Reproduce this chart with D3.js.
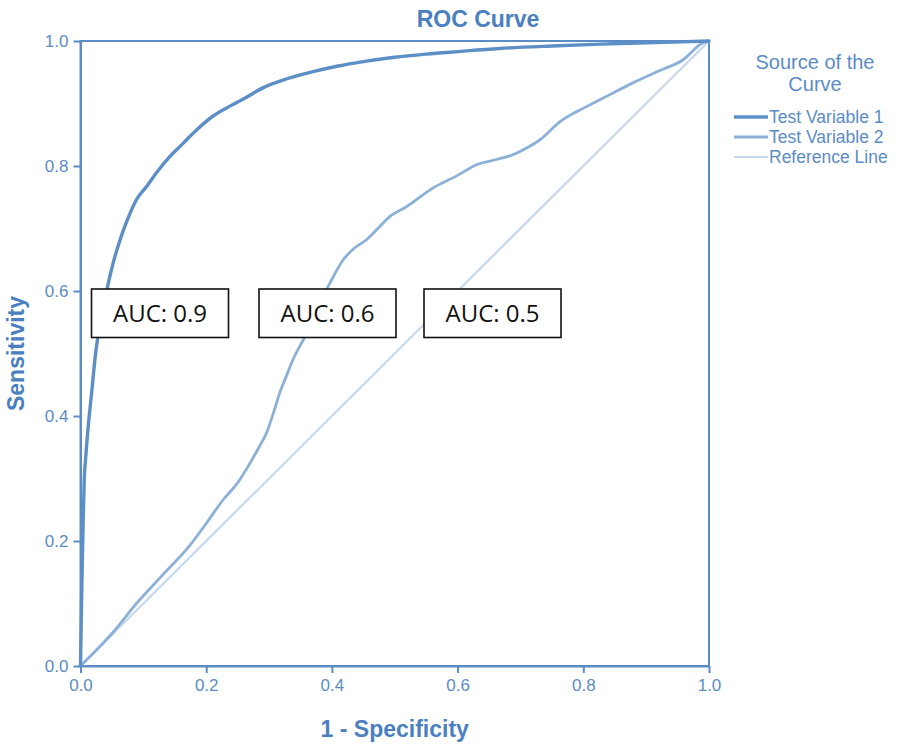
<!DOCTYPE html>
<html>
<head>
<meta charset="utf-8">
<script src="https://cdn.jsdelivr.net/npm/d3@7"></script>
<style>
    body { margin: 0; background: #ffffff; }
    #container { width: 898px; height: 744px; }
</style>
</head>
<body>
<div id="container"></div>
<script>
// ROC points: [1 - specificity, sensitivity]
const testVariable1 = [
    [0, 0], [0.002, 0.12], [0.004, 0.22], [0.006, 0.3], [0.008, 0.33], [0.012, 0.38],
    [0.018, 0.44], [0.024, 0.5], [0.03, 0.54], [0.036, 0.57], [0.042, 0.602],
    [0.052, 0.645], [0.063, 0.682], [0.075, 0.715], [0.089, 0.746], [0.105, 0.767],
    [0.123, 0.792], [0.142, 0.815], [0.162, 0.835], [0.185, 0.858], [0.211, 0.88],
    [0.24, 0.897], [0.264, 0.91], [0.29, 0.925], [0.33, 0.94], [0.37, 0.951],
    [0.41, 0.96], [0.45, 0.967], [0.5, 0.974], [0.55, 0.979], [0.6, 0.983],
    [0.667, 0.988], [0.75, 0.992], [0.827, 0.995], [0.9, 0.997], [1, 1]
];
const testVariable2 = [
    [0, 0], [0.01, 0.01], [0.05, 0.052], [0.089, 0.1], [0.13, 0.145], [0.174, 0.193],
    [0.2, 0.228], [0.227, 0.266], [0.25, 0.293], [0.27, 0.325], [0.284, 0.35],
    [0.296, 0.373], [0.307, 0.405], [0.317, 0.437], [0.328, 0.465], [0.338, 0.49],
    [0.36, 0.533], [0.378, 0.575], [0.397, 0.613], [0.418, 0.65], [0.435, 0.668],
    [0.455, 0.682], [0.475, 0.702], [0.492, 0.719], [0.519, 0.735], [0.561, 0.765],
    [0.6, 0.785], [0.63, 0.802], [0.66, 0.81], [0.688, 0.818], [0.712, 0.83],
    [0.731, 0.842], [0.763, 0.871], [0.805, 0.895], [0.84, 0.913], [0.879, 0.933],
    [0.92, 0.952], [0.959, 0.97], [0.99, 0.997], [1, 1]
];
const referenceLine = [[0, 0], [1, 1]];

const seriesNames = ['Test Variable 1', 'Test Variable 2', 'Reference Line'];
const aucLabels = ['AUC: 0.9', 'AUC: 0.6', 'AUC: 0.5'];
const tickValues = [0, 0.2, 0.4, 0.6, 0.8, 1.0];

const colors = ['#5d8fc7', '#8cb1d9', '#c6d8eb'];
const widths = [3.4, 2.8, 2.2];
const axisColor = '#5b8cc4';
const titleColor = '#4a80bf';
const font = '"Liberation Sans", Arial, sans-serif';

const svg = d3.select('#container')
    .append('svg')
    .attr('width', 898)
    .attr('height', 744);

const x = d3.scaleLinear().domain([0, 1]).range([80.5, 709]);
const y = d3.scaleLinear().domain([0, 1]).range([666, 41]);

// frame round the plot
svg.append('rect')
    .attr('x', x(0))
    .attr('y', y(1))
    .attr('width', x(1) - x(0))
    .attr('height', y(0) - y(1))
    .attr('fill', 'none')
    .attr('stroke', axisColor)
    .attr('stroke-width', 2);

// axes
const xAxis = svg.append('g')
    .attr('transform', `translate(0, ${y(0)})`)
    .call(d3.axisBottom(x).tickValues(tickValues).tickFormat(d3.format('.1f')).tickSize(7).tickSizeOuter(0));
const yAxis = svg.append('g')
    .attr('transform', `translate(${x(0)}, 0)`)
    .call(d3.axisLeft(y).tickValues(tickValues).tickFormat(d3.format('.1f')).tickSize(7).tickSizeOuter(0));
[xAxis, yAxis].forEach(g => {
    g.select('.domain').attr('stroke', axisColor).attr('stroke-width', 2);
    g.selectAll('.tick line').attr('stroke', axisColor).attr('stroke-width', 2);
    g.selectAll('.tick text')
        .attr('fill', axisColor)
        .style('font-family', font)
        .style('font-size', '17px');
});
xAxis.selectAll('.tick text').attr('y', 10).attr('dy', '0.9em');
yAxis.selectAll('.tick text').attr('x', -12);

// curves
const line = d3.line()
    .x(d => x(d[0]))
    .y(d => y(d[1]))
    .curve(d3.curveMonotoneX);
[referenceLine, testVariable2, testVariable1].forEach((series, i) => {
    const idx = 2 - i;
    svg.append('path')
        .datum(series)
        .attr('d', line)
        .attr('fill', 'none')
        .attr('stroke', colors[idx])
        .attr('stroke-width', widths[idx])
        .attr('stroke-linejoin', 'round')
        .attr('stroke-linecap', 'round');
});

// title and axis titles
svg.append('text')
    .text('ROC Curve')
    .attr('x', 478)
    .attr('y', 27)
    .attr('text-anchor', 'middle')
    .attr('fill', titleColor)
    .style('font-family', font)
    .style('font-weight', 700)
    .style('font-size', '23px');
svg.append('text')
    .text('1 - Specificity')
    .attr('x', (x(0) + x(1)) / 2)
    .attr('y', 737)
    .attr('text-anchor', 'middle')
    .attr('fill', titleColor)
    .style('font-family', font)
    .style('font-weight', 700)
    .style('font-size', '23px');
svg.append('text')
    .text('Sensitivity')
    .attr('transform', `translate(24, ${(y(0) + y(1)) / 2}) rotate(-90)`)
    .attr('text-anchor', 'middle')
    .attr('fill', titleColor)
    .style('font-family', font)
    .style('font-weight', 700)
    .style('font-size', '23px');

// legend
const legend = svg.append('g');
['Source of the', 'Curve'].forEach((t, i) => {
    legend.append('text')
        .text(t)
        .attr('x', 815)
        .attr('y', 69 + i * 22)
        .attr('text-anchor', 'middle')
        .attr('fill', axisColor)
        .style('font-family', font)
        .style('font-size', '20px');
});
seriesNames.forEach((name, i) => {
    const ly = 117 + i * 20;
    legend.append('line')
        .attr('x1', 734).attr('x2', 768)
        .attr('y1', ly).attr('y2', ly)
        .attr('stroke', colors[i])
        .attr('stroke-width', widths[i]);
    legend.append('text')
        .text(name)
        .attr('x', 769)
        .attr('y', ly)
        .attr('dy', '0.36em')
        .attr('fill', axisColor)
        .style('font-family', font)
        .style('font-size', '17.5px');
});

// AUC boxes
const boxLeft = [91.5, 259, 424];
aucLabels.forEach((label, i) => {
    const g = svg.append('g').attr('transform', `translate(${boxLeft[i]}, 289)`);
    g.append('rect')
        .attr('width', 137)
        .attr('height', 48.5)
        .attr('fill', '#ffffff')
        .attr('stroke', '#111111')
        .attr('stroke-width', 1.6);
    g.append('text')
        .text(label)
        .attr('x', 68.5)
        .attr('y', 24.5)
        .attr('dy', '0.36em')
        .attr('text-anchor', 'middle')
        .attr('fill', '#111111')
        .style('font-family', '"Open Sans", "Noto Sans", sans-serif')
        .style('font-size', '24px');
});
</script>
</body>
</html>
